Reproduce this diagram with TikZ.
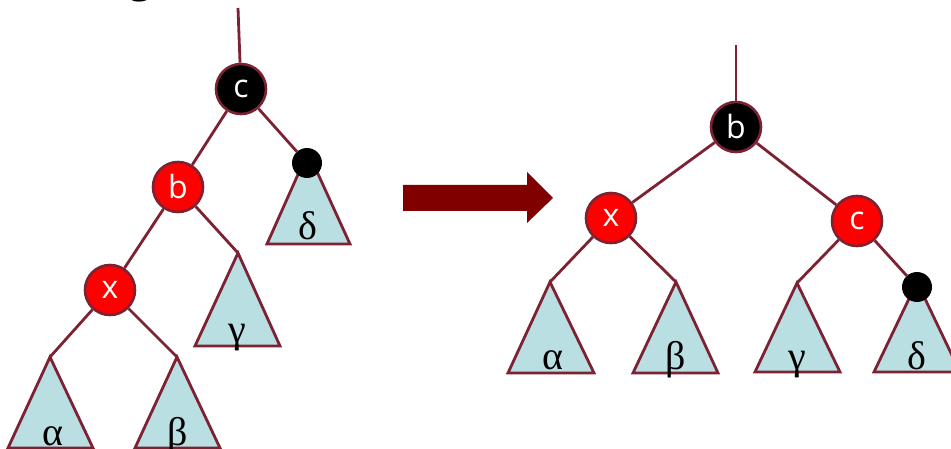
\documentclass[tikz,border=0pt]{standalone}
\usepackage{fontspec}
\setmainfont{Open Sans}
\newfontfamily\greekfont{Liberation Serif}
\definecolor{edge}{RGB}{125,34,50}
\definecolor{trifill}{RGB}{185,223,227}
\definecolor{arrowred}{RGB}{128,0,0}
\definecolor{nodered}{RGB}{255,0,0}
\begin{document}
\begin{tikzpicture}[x=1pt,y=-1pt,
  conn/.style={draw=edge,line width=2.8pt},
  rbnode/.style={circle,draw=edge,line width=2.6pt,minimum size=50pt,inner sep=0pt,text=white,font=\fontsize{32}{32}\selectfont},
  rednode/.style={rbnode,fill=nodered},
  blacknode/.style={rbnode,fill=black},
  nilnode/.style={circle,fill=black,minimum size=30pt,inner sep=0pt},
  tri/.style={draw=edge,fill=trifill,line width=2.8pt,line join=miter},
  glabel/.style={anchor=base,inner sep=0pt,font=\greekfont\fontsize{40}{40}\selectfont}]
\useasboundingbox (0,0) rectangle (951,449);
\node[anchor=base,inner sep=0pt,font=\fontsize{44}{44}\selectfont] (title) at (141,-8) {g};
% ---------- left tree ----------
\coordinate (ltop) at (238,8);
\coordinate (lalpha) at (50,357);
\coordinate (lbeta) at (177,357);
\coordinate (lgamma) at (238,253);
\coordinate (ldelta) at (308,152);
\draw[tri] (lalpha) -- (93,448) -- (8,448) -- cycle;
\draw[tri] (lbeta) -- (220,448) -- (135,448) -- cycle;
\draw[tri] (lgamma) -- (280,346) -- (195,346) -- cycle;
\draw[tri] (ldelta) -- (350,244) -- (267,244) -- cycle;
\node[blacknode] (lc) at (241,89) {c};
\node[rednode] (lb) at (178,187) {b};
\node[rednode] (lx) at (110,290) {x};
\node[nilnode] (lnil) at (307,163) {};
\draw[conn] (ltop) -- (lc);
\draw[conn] (lc) -- (lb);
\draw[conn] (lc) -- (lnil);
\draw[conn] (lb) -- (lx);
\draw[conn] (lb) -- (lgamma);
\draw[conn] (lx) -- (lalpha);
\draw[conn] (lx) -- (lbeta);
\node[glabel] (la) at (53,445) {α};
\node[glabel] (lbl) at (178,445) {β};
\node[glabel] (lg) at (237,342) {γ};
\node[glabel] (ld) at (308,240) {δ};
% ---------- arrow ----------
\fill[arrowred] (403,185) -- (527,185) -- (527,172) -- (553,198) -- (527,223) -- (527,211) -- (403,211) -- cycle;
% ---------- right tree ----------
\coordinate (rtop) at (736,45);
\coordinate (ralpha) at (550,282);
\coordinate (rbeta) at (676,282);
\coordinate (rgamma) at (797,283);
\coordinate (rdelta) at (917,282);
\draw[tri] (ralpha) -- (594,373) -- (508,373) -- cycle;
\draw[tri] (rbeta) -- (718,373) -- (633,373) -- cycle;
\draw[tri] (rgamma) -- (840,372) -- (755,372) -- cycle;
\draw[tri] (rdelta) -- (960,372) -- (874,372) -- cycle;
\node[blacknode] (rb) at (736,127) {b};
\node[rednode] (rx) at (611,218) {x};
\node[rednode] (rc) at (857,221) {c};
\node[nilnode] (rnil) at (917,287) {};
\draw[conn] (rtop) -- (rb);
\draw[conn] (rb) -- (rx);
\draw[conn] (rb) -- (rc);
\draw[conn] (rx) -- (ralpha);
\draw[conn] (rx) -- (rbeta);
\draw[conn] (rc) -- (rgamma);
\draw[conn] (rc) -- (rnil);
\node[glabel] (ra) at (553,369) {α};
\node[glabel] (rbl) at (676,369) {β};
\node[glabel] (rg) at (797,369) {γ};
\node[glabel] (rd) at (917,369) {δ};
\end{tikzpicture}
\end{document}
